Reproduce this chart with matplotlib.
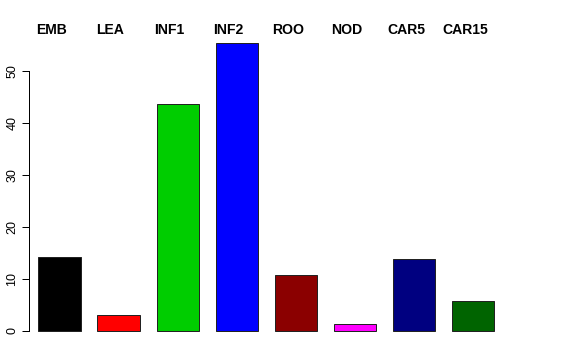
import matplotlib
matplotlib.use("Agg")
import matplotlib.pyplot as plt
import numpy as np

categories = ["EMB", "LEA", "INF1", "INF2", "ROO", "NOD", "CAR5", "CAR15"]
values = [14.2, 3.0, 43.6, 55.4, 10.8, 1.3, 13.9, 5.8]
colors = ["#000000", "#FF0000", "#00CD00", "#0000FF", "#8B0000", "#FF00FF", "#000080", "#006400"]
yticks = [0, 10, 20, 30, 40, 50]

plt.rcParams['font.family'] = ['Liberation Sans', 'DejaVu Sans']

fig = plt.figure(figsize=(8, 5), dpi=72)
W, H = 576, 360
left, right, top, bottom = 29.2, 503.3, 31.5, 342.5
ax = fig.add_axes([left / W, 1 - bottom / H, (right - left) / W, (bottom - top) / H])

space = 0.4
width = 1.0
centers = np.array([space + width / 2 + i * (space + width) for i in range(len(values))])
ax.bar(centers, values, width=width, color=colors, edgecolor="#222222", linewidth=1.0)

span = centers[-1] + width / 2 - (centers[0] - width / 2)
x0 = centers[0] - width / 2 - 0.04 * span / 2
x1 = centers[-1] + width / 2 + 0.04 * span / 2
ax.set_xlim(x0, x1)
ymax = max(values)
ax.set_ylim(-0.04 * ymax, ymax * 1.04)

for s in ["top", "right", "bottom"]:
    ax.spines[s].set_visible(False)
ax.spines["left"].set_bounds(0, 50)
ax.spines["left"].set_linewidth(1.0)
ax.set_xticks([])
ax.set_yticks(yticks)
ax.set_yticklabels([str(t) for t in yticks], rotation=90, va="center", fontsize=12.5)
ax.tick_params(axis="y", length=7, width=1.0, pad=4)

for c, lab in zip(centers, categories):
    ax.text(c - 0.19, 57.06, lab, ha="center", va="baseline", fontsize=14,
            fontweight="bold", clip_on=False)

fig.savefig("out.png", dpi=72)
